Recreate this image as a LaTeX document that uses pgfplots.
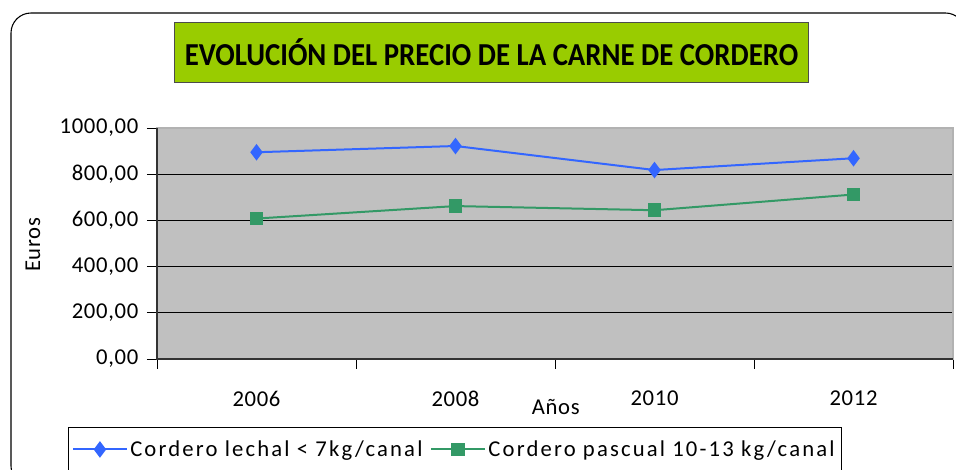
\documentclass[border=0pt]{standalone}
\usepackage{fontspec}
\setmainfont{Carlito}
\usepackage{pgfplots}
\pgfplotsset{compat=1.18}
\definecolor{lechal}{RGB}{51,102,255}
\definecolor{pascual}{RGB}{51,153,102}
\definecolor{plotbg}{RGB}{192,192,192}
\definecolor{titlegreen}{RGB}{153,204,0}
\newcommand{\lblfont}{\fontsize{17}{20}\selectfont\addfontfeature{LetterSpace=3}}
\newcommand{\legfont}{\fontsize{17}{20}\selectfont\addfontfeature{LetterSpace=9.5}}

\begin{document}
\begin{tikzpicture}
\useasboundingbox (0,0) rectangle (717pt,352.5pt);
\clip (0,0) rectangle (717pt,352.5pt);
% outer chart frame
\draw[line width=0.8pt, rounded corners=15pt] (8.25pt,-12pt) rectangle (724pt,342.75pt);
% title box
\node[draw=black!70, line width=0.8pt, fill=titlegreen, minimum width=475.5pt, minimum height=45pt,
  anchor=north west, inner sep=0pt, font=\fontsize{24}{28}\selectfont\bfseries]
  at (130.5pt,336pt) {\scalebox{0.9}[1]{EVOLUCIÓN DEL PRECIO DE LA CARNE DE CORDERO}};

\begin{axis}[
  at={(117.75pt,83.25pt)}, anchor=south west,
  scale only axis, width=597pt, height=173.25pt,
  xmin=-0.5, xmax=3.5, ymin=0, ymax=1000,
  xtick={0,1,2,3}, xticklabels={2006,2008,2010,2012},
  minor xtick={-0.5,0.5,1.5,2.5,3.5},
  ytick={0,200,...,1000},
  tick align=outside, tick pos=left,
  major tick length=7.5pt, minor tick length=7.5pt,
  major x tick style={draw=none},
  minor x tick style={black, line width=0.6pt},
  ytick style={black, line width=0.6pt},
  ymajorgrids, grid style={black, line width=0.6pt},
  axis background/.style={fill=plotbg},
  axis line style={gray!60, line width=0.8pt},
  tick label style={font=\lblfont},
  xticklabel style={yshift=-13pt},
  yticklabel style={xshift=-3pt, /pgf/number format/.cd, fixed, fixed zerofill, precision=2, use comma, 1000 sep={}, assume math mode=true},
  label style={font=\lblfont},
  xlabel={Años}, ylabel={Euros},
  xlabel style={at={(axis description cs:0.501,-0.208)}, anchor=center},
  ylabel style={at={(axis description cs:-0.156,0.494)}, anchor=center},
  legend columns=2,
  legend style={at={(-0.1118,-0.2944)}, anchor=north west, draw=black, fill=white,
    font=\legfont, inner ysep=8pt, inner xsep=3pt,
    /tikz/every even column/.append style={column sep=4pt}},
  legend image code/.code={\draw[mark repeat=2, mark phase=2] plot coordinates {(0pt,0pt)(20pt,0pt)(40pt,0pt)};},
  after end axis/.code={\draw[black!80, line width=0.8pt] (rel axis cs:0,1) -- (rel axis cs:0,0) -- (rel axis cs:1,0);},
]
\addplot[color=lechal, line width=1.5pt, mark=diamond*, mark size=5pt, mark options={fill=lechal}]
  coordinates {(0,895) (1,922) (2,818) (3,869)};
\addplot[color=pascual, line width=1.5pt, mark=square*, mark size=4.3pt, mark options={fill=pascual}]
  coordinates {(0,608) (1,662) (2,644) (3,712)};
\legend{Cordero lechal < 7kg/canal, Cordero pascual 10-13 kg/canal}
\end{axis}
\end{tikzpicture}
\end{document}
